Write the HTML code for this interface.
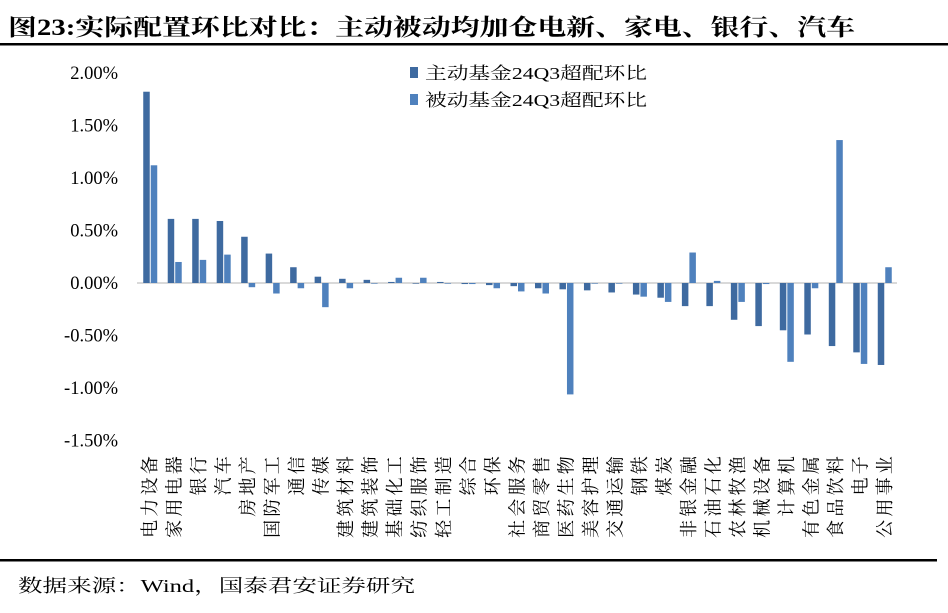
<!DOCTYPE html>
<html><head><meta charset="utf-8"><style>
html,body{margin:0;padding:0;background:#fff;}
svg{display:block;}
text{font-family:"Liberation Serif","Noto Serif CJK SC",serif;fill:#000;}
</style></head><body>
<svg id="chart" width="948" height="613" viewBox="0 0 948 613" xmlns="http://www.w3.org/2000/svg">
<text x="8" y="35" font-size="23" font-weight="bold" textLength="847" lengthAdjust="spacingAndGlyphs">图23:实际配置环比对比：主动被动均加仓电新、家电、银行、汽车</text>
<rect x="0" y="43" width="948" height="2.5" fill="#000"/>
<g id="yaxis"></g>
<line x1="137" x2="897" y1="283" y2="283" stroke="#d9d9d9" stroke-width="2"/>
<g id="bars"></g>
<g id="xlabels"></g>
<g>
 <g>
  <rect x="410" y="67" width="8" height="11" fill="#3e6aa0"/>
  <text x="425" y="79" font-size="17" textLength="222" lengthAdjust="spacingAndGlyphs">主动基金24Q3超配环比</text>
 </g>
 <g>
  <rect x="410" y="94" width="8" height="11" fill="#4f81bd"/>
  <text x="425" y="106" font-size="17" textLength="222" lengthAdjust="spacingAndGlyphs">被动基金24Q3超配环比</text>
 </g>
</g>
<rect x="0" y="559" width="937" height="2.5" fill="#000"/>
<text x="18" y="592" font-size="18" textLength="397" lengthAdjust="spacingAndGlyphs">数据来源：Wind，国泰君安证券研究</text>
</svg>
<script>
const categories = ["电力设备","家用电器","银行","汽车","房地产","国防军工","通信","传媒","建筑材料","建筑装饰","基础化工","纺织服饰","轻工制造","综合","环保","社会服务","商贸零售","医药生物","美容护理","交通运输","钢铁","煤炭","非银金融","石油石化","农林牧渔","机械设备","计算机","有色金属","食品饮料","电子","公用事业"];
const activeValues = [1.82,0.61,0.61,0.59,0.44,0.28,0.15,0.06,0.04,0.03,0.01,0.00,0.01,-0.01,-0.02,-0.03,-0.05,-0.06,-0.07,-0.09,-0.11,-0.14,-0.22,-0.22,-0.35,-0.41,-0.45,-0.49,-0.60,-0.66,-0.78];
const passiveValues = [1.12,0.20,0.22,0.27,-0.04,-0.10,-0.05,-0.23,-0.05,0.00,0.05,0.05,0.00,-0.01,-0.05,-0.08,-0.10,-1.06,0.00,0.00,-0.13,-0.18,0.29,0.02,-0.18,-0.01,-0.75,-0.05,1.36,-0.77,0.15];
const yTicks = [2.0,1.5,1.0,0.5,0.0,-0.5,-1.0,-1.5];
const yTickLabels = ["2.00%","1.50%","1.00%","0.50%","0.00%","-0.50%","-1.00%","-1.50%"];

const NS="http://www.w3.org/2000/svg";
const plotL=138, plotR=897;
function yScale(v){return 283 - v*105.1;}
function xCenter(i){return plotL + (plotR-plotL)/categories.length*(i+0.5);}
function mk(tag,attrs){const e=document.createElementNS(NS,tag);for(const k in attrs)e.setAttribute(k,attrs[k]);return e;}

const ya=document.getElementById('yaxis');
yTicks.forEach((t,i)=>{
  const tx=mk('text',{x:118,y:yScale(t)+6,'text-anchor':'end','font-size':18.5});
  
  
  tx.textContent=yTickLabels[i];
  ya.appendChild(tx);
});

const bg=document.getElementById('bars');
const bw=6.5;
categories.forEach((c,i)=>{
  const cx=xCenter(i);
  const a=activeValues[i], p=passiveValues[i];
  const ya1=yScale(Math.max(a,0)), ya2=yScale(Math.min(a,0));
  const r1=mk('rect',{x:cx-bw-0.5,y:ya1,width:bw,height:Math.max(ya2-ya1,0.6),fill:'#3e6aa0'});
  
  
  bg.appendChild(r1);
  const yp1=yScale(Math.max(p,0)), yp2=yScale(Math.min(p,0));
  const r2=mk('rect',{x:cx+0.5,y:yp1,width:bw,height:Math.max(yp2-yp1,0.6),fill:'#4f81bd'});
  
  
  bg.appendChild(r2);
});

const xl=document.getElementById('xlabels');
categories.forEach((c,i)=>{
  const cx=xCenter(i)+6;
  const t=mk('text',{x:0,y:0,'text-anchor':'end','font-size':18,'letter-spacing':'3.2',transform:'translate('+cx+',453) rotate(-90)'});
  
  
  t.textContent=c;
  xl.appendChild(t);
});
</script>
</body></html>
